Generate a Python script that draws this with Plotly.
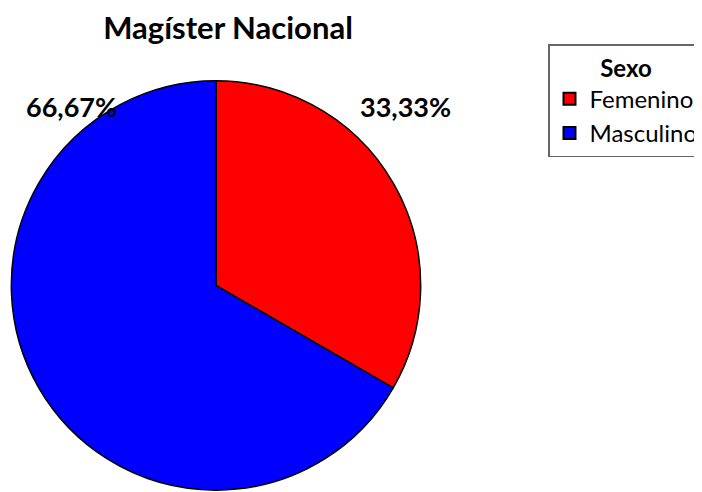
import plotly.graph_objects as go

labels = ["Femenino", "Masculino"]
values = [1, 2]
colors = ["#ff0000", "#0000ff"]

pct = [v / sum(values) * 100 for v in values]
pct_text = [f"{p:.2f}%".replace(".", ",") for p in pct]

fig = go.Figure()
fig.add_trace(go.Pie(
    labels=labels,
    values=values,
    sort=False,
    direction="clockwise",
    rotation=0,
    marker=dict(colors=colors, line=dict(color="black", width=1.5)),
    textinfo="none",
    hoverinfo="label+percent",
    domain=dict(x=[2 / 702, 414 / 702], y=[0.02, 0.852]),
))

# percentage labels
fig.add_annotation(x=398 / 702, y=1 - 98 / 492, xref="paper", yref="paper",
                   xanchor="center", yanchor="middle",
                   text=f"<b>{pct_text[0]}</b>", showarrow=False,
                   font=dict(size=27, color="black"))
fig.add_annotation(x=63 / 702, y=1 - 98 / 492, xref="paper", yref="paper",
                   xanchor="center", yanchor="middle",
                   text=f"<b>{pct_text[1]}</b>", showarrow=False,
                   font=dict(size=27, color="black"))

fig.update_layout(
    width=702, height=492,
    margin=dict(l=0, r=0, t=0, b=0),
    paper_bgcolor="white",
    font=dict(family="Lato, Open Sans, sans-serif", color="black"),
    title=dict(text="<b>Magíster Nacional</b>", x=220 / 702, xanchor="center",
               y=1 - 20 / 492, yanchor="middle", font=dict(size=31)),
    legend=dict(
        title=dict(text="<b>Sexo</b>", side="top center", font=dict(size=24)),
        x=540 / 702, y=1 - 36 / 492, xanchor="left", yanchor="top",
        bordercolor="#666666", borderwidth=1.5, bgcolor="white",
        font=dict(size=24), itemsizing="constant", tracegroupgap=0,
    ),
)

fig.write_html("out.html")
